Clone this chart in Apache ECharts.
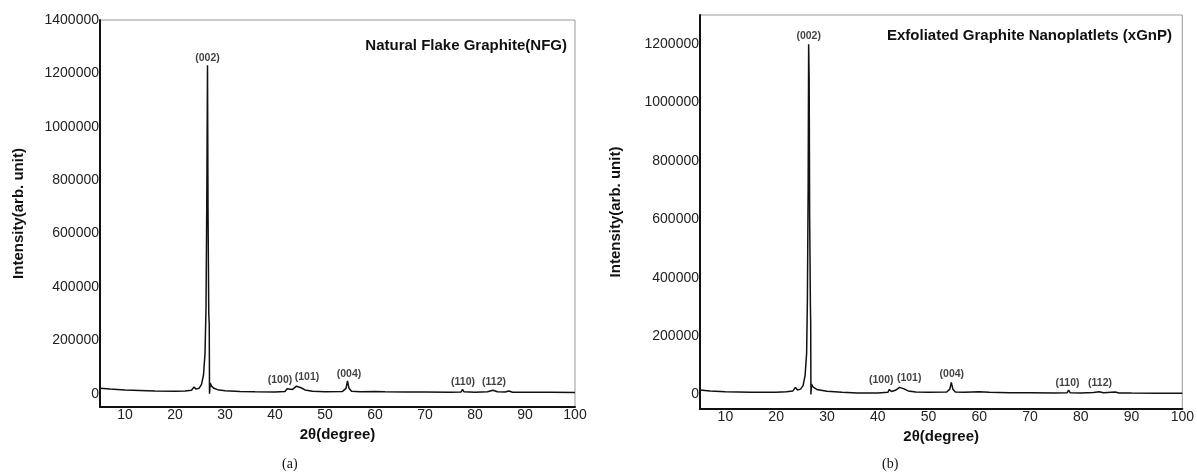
<!DOCTYPE html>
<html>
<head>
<meta charset="utf-8">
<script src="https://cdn.jsdelivr.net/npm/echarts@6/dist/echarts.min.js"></script>
<style>
  html, body { margin: 0; padding: 0; background: #fff; }
  #chart { width: 1197px; height: 475px; }
</style>
</head>
<body>
<div id="chart"></div>
<script>
// 2theta (degree) / intensity for Natural Flake Graphite
var nfgAngle = [5, 7, 10, 13, 16, 20, 22, 23.3, 23.8, 24.2, 24.8, 25.3, 25.7, 26.0, 26.2, 26.35, 26.5, 26.6, 26.75, 26.85, 26.9, 26.95, 27.05, 27.3, 27.8, 28.5, 30, 33, 36, 40, 42.0, 42.4, 42.7, 43.5, 44.3, 44.6, 45.2, 46, 47.5, 50, 53.5, 54.2, 54.5, 54.8, 55.3, 57, 60, 62, 66, 70, 75, 77.2, 77.5, 77.8, 80, 82.5, 83.6, 84.5, 86, 86.8, 87.5, 90, 95, 100]
var nfgIntensity = [20000, 17000, 14000, 12000, 10000, 9000, 10000, 13000, 25000, 17000, 20000, 35000, 70000, 150000, 320000, 700000, 1230000, 700000, 300000, 260000, 0, 5000, 40000, 28000, 20000, 15000, 11000, 8000, 7000, 6500, 8000, 18000, 12000, 16000, 28000, 30000, 22000, 14000, 9000, 7500, 8500, 20000, 48000, 20000, 9000, 7500, 8000, 7000, 6500, 6000, 5500, 6000, 16000, 7000, 5500, 7000, 13000, 7000, 6000, 10000, 5500, 5000, 5000, 4500]

// 2theta (degree) / intensity for Exfoliated Graphite Nanoplatlets
var xgnpAngle = [5, 7, 10, 15, 20, 22, 23.3, 23.8, 24.2, 24.8, 25.3, 25.7, 26.0, 26.15, 26.3, 26.4, 26.5, 26.6, 26.75, 26.8, 26.85, 26.95, 27.3, 28, 30, 33, 36, 40, 42.0, 42.3, 42.7, 43.5, 44.3, 44.6, 45.2, 46, 47.5, 50, 53.6, 54.2, 54.5, 54.8, 55.3, 57, 60, 62, 66, 70, 75, 77.3, 77.6, 77.9, 80, 82.5, 83.6, 84.5, 86.8, 87.5, 90, 95, 100]
var xgnpIntensity = [15000, 12000, 9000, 7000, 7000, 9000, 12000, 24000, 15000, 18000, 30000, 65000, 140000, 320000, 700000, 1200000, 1080000, 600000, 300000, 250000, 0, 35000, 25000, 17000, 11000, 7000, 5000, 5000, 7000, 17000, 10000, 14000, 24000, 26000, 19000, 12000, 8000, 7000, 8000, 18000, 41000, 18000, 8000, 7000, 9000, 7000, 6000, 5500, 5000, 5500, 15000, 6000, 5000, 6500, 9000, 6000, 8000, 5000, 4500, 4000, 4000]

// peak labels: text, label x, label y
var peakNames = ['(002)', '(100)', '(101)', '(004)', '(110)', '(112)']
var nfgLabelX = [26.5, 41, 46.4, 54.8, 77.6, 83.8]
var nfgLabelY = [1257000, 51000, 62000, 74000, 44000, 44000]
var xgnpLabelX = [26.4, 40.7, 46.2, 54.6, 77.4, 83.8]
var xgnpLabelY = [1228000, 49000, 57000, 69000, 40000, 40000]

var xTicks = [10, 20, 30, 40, 50, 60, 70, 80, 90, 100]
var nfgYTicks = [0, 200000, 400000, 600000, 800000, 1000000, 1200000, 1400000]
var xgnpYTicks = [0, 200000, 400000, 600000, 800000, 1000000, 1200000]

var chart = echarts.init(document.getElementById('chart'))

function pairs(xs, ys) {
  return xs.map(function (x, i) { return [x, ys[i]] })
}
function labels(xs, ys) {
  return peakNames.map(function (n, i) { return { name: n, value: [xs[i], ys[i]] } })
}

var font = 'Arial, "Liberation Sans", sans-serif'

function xAxis(idx) {
  return {
    gridIndex: idx,
    type: 'value',
    min: 5,
    max: 100,
    name: '2\u03b8(degree)',
    nameLocation: 'middle',
    nameGap: 18,
    nameTextStyle: { fontSize: 15, fontWeight: 'bold', color: '#111', fontFamily: font },
    axisLine: { show: true, onZero: false, lineStyle: { color: '#111', width: 2 } },
    axisTick: { show: false },
    splitLine: { show: false },
    axisLabel: { customValues: xTicks, fontSize: 14, color: '#222', margin: 1, fontFamily: font }
  }
}
function yAxis(idx, max, ticks, gap) {
  return {
    gridIndex: idx,
    type: 'value',
    min: -50000,
    max: max,
    name: 'Intensity(arb. unit)',
    nameLocation: 'middle',
    nameGap: gap,
    nameTextStyle: { fontSize: 15, fontWeight: 'bold', color: '#111', fontFamily: font },
    axisLine: { show: true, onZero: false, lineStyle: { color: '#111', width: 2 } },
    axisTick: { show: false },
    splitLine: { show: false },
    axisLabel: {
      customValues: ticks,
      fontSize: 14,
      color: '#222',
      margin: 1,
      fontFamily: font,
      formatter: function (v) { return String(v) }
    }
  }
}

var labelSeries = function (idx, xs, ys) {
  return {
    type: 'scatter',
    xAxisIndex: idx,
    yAxisIndex: idx,
    symbolSize: 1,
    itemStyle: { color: 'rgba(0,0,0,0)' },
    silent: true,
    label: {
      show: true,
      position: 'inside',
      formatter: '{b}',
      fontSize: 10.5,
      fontWeight: 'bold',
      color: '#111',
      fontFamily: font
    },
    data: labels(xs, ys)
  }
}

chart.setOption({
  backgroundColor: '#fff',
  animation: false,
  title: [
    {
      text: 'Natural Flake Graphite(NFG)',
      right: 625,
      top: 33,
      textStyle: { fontSize: 15, fontWeight: 'bold', color: '#111', fontFamily: font }
    },
    {
      text: 'Exfoliated Graphite Nanoplatlets (xGnP)',
      right: 20,
      top: 23,
      textStyle: { fontSize: 15, fontWeight: 'bold', color: '#111', fontFamily: font }
    }
  ],
  grid: [
    { left: 100, top: 20, width: 475, height: 387, show: true, borderColor: '#9a9a9a', borderWidth: 1 },
    { left: 700, top: 15, width: 484, height: 394, show: true, borderColor: '#9a9a9a', borderWidth: 1 }
  ],
  xAxis: [xAxis(0), xAxis(1)],
  yAxis: [yAxis(0, 1400000, nfgYTicks, 74), yAxis(1, 1300000, xgnpYTicks, 77)],
  series: [
    {
      type: 'line',
      xAxisIndex: 0,
      yAxisIndex: 0,
      showSymbol: false,
      lineStyle: { color: '#111', width: 1.5 },
      data: pairs(nfgAngle, nfgIntensity)
    },
    {
      type: 'line',
      xAxisIndex: 1,
      yAxisIndex: 1,
      showSymbol: false,
      lineStyle: { color: '#111', width: 1.5 },
      data: pairs(xgnpAngle, xgnpIntensity)
    },
    labelSeries(0, nfgLabelX, nfgLabelY),
    labelSeries(1, xgnpLabelX, xgnpLabelY)
  ],
  graphic: [
    { type: 'text', left: 282, top: 457, style: { text: '(a)', fontSize: 14, fill: '#111', fontFamily: '"Liberation Serif", "Times New Roman", serif' } },
    { type: 'text', left: 882, top: 457, style: { text: '(b)', fontSize: 14, fill: '#111', fontFamily: '"Liberation Serif", "Times New Roman", serif' } }
  ]
})
</script>
</body>
</html>
